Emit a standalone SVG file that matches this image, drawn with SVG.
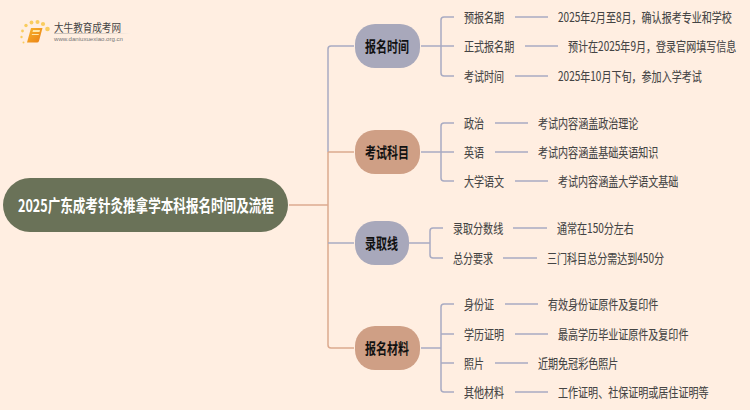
<svg xmlns="http://www.w3.org/2000/svg" width="750" height="410" viewBox="0 0 750 410">
<defs>
<linearGradient id="fade" x1="0" y1="0" x2="1" y2="0"><stop offset="0" stop-color="#c9c0b8"/><stop offset="0.6" stop-color="#d8cec5"/><stop offset="1" stop-color="#fff0e4"/></linearGradient>
<linearGradient id="book" x1="0" y1="0" x2="1" y2="1"><stop offset="0" stop-color="#f8b52c"/><stop offset="1" stop-color="#ea7f14"/></linearGradient>
</defs>
<style>
text{font-family:"Noto Sans CJK SC","Liberation Sans",sans-serif;dominant-baseline:central}
.t{font-size:13px;fill:#444;stroke:#444;stroke-width:.1px;transform:translateY(-.8px) scaleX(.772)}
.b{font-size:15px;font-weight:700;fill:#111;transform:scaleX(.733)}
.r{font-size:17px;font-weight:700;fill:#fff;transform:scaleX(.74)}
.p{fill:none;stroke:#a9abc2;stroke-width:1.5}
.o{fill:none;stroke:#dcaa8f;stroke-width:1.5}
.np{fill:#a8a8bb}
.no{fill:#cf9f85}
</style>
<rect width="750" height="410" fill="#ffeee1"/>
<g id="logo">
<g fill="#f9cc5e"><circle cx="26" cy="25.500" r="1.700"/><circle cx="31.500" cy="22.500" r="1.900"/><circle cx="37.500" cy="22" r="2"/><circle cx="43" cy="24" r="2.100"/><circle cx="47.500" cy="29" r="2.300"/><circle cx="22.500" cy="31" r="1.400"/><circle cx="21.500" cy="37" r="1.200"/><circle cx="23.500" cy="42.500" r="1"/></g>
<path d="M31 28H42.500L39 41Q38.500 42.500 37 42.500H27Z" fill="url(#book)"/>
<path d="M33 30H40L39.500 32H32.500ZM32 34H39L38.500 35H31.700Z" fill="#ffe7a8"/>
<text x="54" y="27" font-size="11" fill="#444" textLength="67" lengthAdjust="spacingAndGlyphs">大牛教育成考网</text>
<rect x="54" y="33" width="78" height="1" fill="url(#fade)"/>
<text x="54" y="39" font-size="5.500" fill="#777" textLength="69" lengthAdjust="spacingAndGlyphs" style="font-family:'Liberation Sans',sans-serif">www.daniuxuexiao.org.cn</text>
</g>
<g id="connectors">
<path class="o" d="M289 205H328"/>
<path class="p" d="M354 46H331Q328 46 328 49V152"/>
<path class="o" d="M354 152H328M328 152V345Q328 348 331 348H354"/>
<path class="p" d="M328 243H354"/>
<path class="p" d="M421 46H441M454 17H444Q441 17 441 20V73Q441 76 444 76H454M441 46H454"/>
<path class="p" d="M421 152H441M454 123H444Q441 123 441 126V178Q441 181 444 181H454M441 152H454"/>
<path class="p" d="M409 243H430M443 228H433Q430 228 430 231V255Q430 258 433 258H443"/>
<path class="p" d="M421 348H441M454 304H444Q441 304 441 307V389Q441 392 444 392H454M441 334H454M441 363H454"/>
<path class="p" d="M515 17H548M525 46H558M515 76H548M495 123H528M495 152H528M515 181H548M513 228H547M503 258H537M505 304H538M515 334H548M495 363H528M515 392H548"/>
</g>
<g id="root"><rect x="3" y="178" width="285" height="54" rx="27" fill="#6a7258"/><g transform="translate(18 205)"><text class="r">2025广东成考针灸推拿学本科报名时间及流程</text></g></g>
<g id="n1"><rect class="np" x="355" y="24" width="65" height="44" rx="20"/><g transform="translate(365 46)"><text class="b">报名时间</text></g></g>
<g id="n2"><rect class="no" x="355" y="130" width="65" height="44" rx="20"/><g transform="translate(365 152)"><text class="b">考试科目</text></g></g>
<g id="n3"><rect class="np" x="355" y="221" width="54" height="44" rx="20"/><g transform="translate(365 243)"><text class="b">录取线</text></g></g>
<g id="n4"><rect class="no" x="355" y="326" width="65" height="44" rx="20"/><g transform="translate(365 348)"><text class="b">报名材料</text></g></g>
<g id="n1a" transform="translate(464 17)"><text class="t">预报名期</text></g>
<g id="n1b" transform="translate(464 46)"><text class="t">正式报名期</text></g>
<g id="n1c" transform="translate(464 76)"><text class="t">考试时间</text></g>
<g id="n2a" transform="translate(464 123)"><text class="t">政治</text></g>
<g id="n2b" transform="translate(464 152)"><text class="t">英语</text></g>
<g id="n2c" transform="translate(464 181)"><text class="t">大学语文</text></g>
<g id="n3a" transform="translate(453 228)"><text class="t">录取分数线</text></g>
<g id="n3b" transform="translate(453 258)"><text class="t">总分要求</text></g>
<g id="n4a" transform="translate(464 304)"><text class="t">身份证</text></g>
<g id="n4b" transform="translate(464 334)"><text class="t">学历证明</text></g>
<g id="n4c" transform="translate(464 363)"><text class="t">照片</text></g>
<g id="n4d" transform="translate(464 392)"><text class="t">其他材料</text></g>
<g id="l1a" transform="translate(558 17)"><text class="t">2025年2月至8月，确认报考专业和学校</text></g>
<g id="l1b" transform="translate(568 46)"><text class="t">预计在2025年9月，登录官网填写信息</text></g>
<g id="l1c" transform="translate(558 76)"><text class="t">2025年10月下旬，参加入学考试</text></g>
<g id="l2a" transform="translate(538 123)"><text class="t">考试内容涵盖政治理论</text></g>
<g id="l2b" transform="translate(538 152)"><text class="t">考试内容涵盖基础英语知识</text></g>
<g id="l2c" transform="translate(558 181)"><text class="t">考试内容涵盖大学语文基础</text></g>
<g id="l3a" transform="translate(557 228)"><text class="t">通常在150分左右</text></g>
<g id="l3b" transform="translate(547 258)"><text class="t">三门科目总分需达到450分</text></g>
<g id="l4a" transform="translate(548 304)"><text class="t">有效身份证原件及复印件</text></g>
<g id="l4b" transform="translate(558 334)"><text class="t">最高学历毕业证原件及复印件</text></g>
<g id="l4c" transform="translate(538 363)"><text class="t">近期免冠彩色照片</text></g>
<g id="l4d" transform="translate(558 392)"><text class="t">工作证明、社保证明或居住证明等</text></g>
</svg>
